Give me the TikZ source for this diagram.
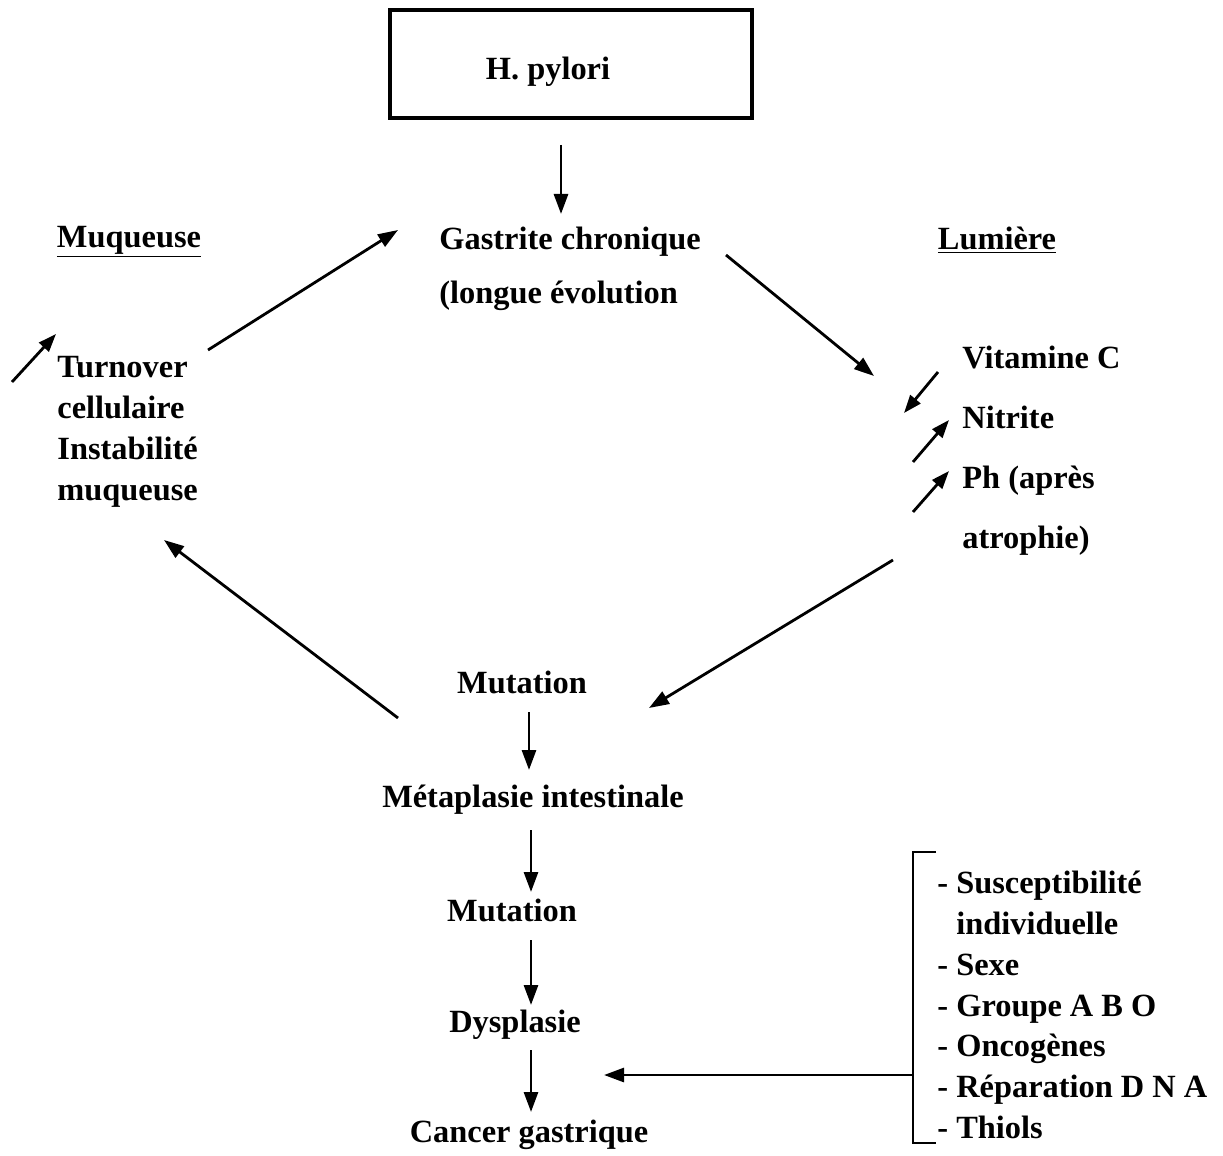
\documentclass[tikz,border=0pt]{standalone}
\usepackage{fontspec}
\setmainfont{Liberation Serif}
\usetikzlibrary{arrows.meta}
\begin{document}
\begin{tikzpicture}[x=0.5pt,y=-0.5pt,
  txt/.style={inner sep=0pt,font=\fontsize{16.2}{20.5}\selectfont\bfseries},
  arr/.style={line width=1.4pt,-{Triangle[length=10pt,width=7pt]}},
  sarr/.style={line width=1.4pt,-{Triangle[length=9pt,width=6.5pt]}}]
\useasboundingbox (0,0) rectangle (1223,1156);
% box
\node[draw,line width=2.4pt,minimum width=181pt,minimum height=54pt,
  label={[txt,xshift=-11.5pt,yshift=-4pt]center:H. pylori}] (hp) at (571,64) {};
% gastrite
\node[txt,align=left,anchor=west,font=\fontsize{16.2}{27}\selectfont\bfseries] (gas) at (439,269) {Gastrite chronique\\(longue évolution};
\node[txt] (muq) at (129,242) {\underline{Muqueuse}};
\node[txt] (lum) at (997,240) {\underline{Lumière}};
\node[txt,align=left,anchor=west] (turn) at (57,432) {Turnover\\cellulaire\\Instabilité\\muqueuse};
\node[txt,align=left,anchor=west,font=\fontsize{16.2}{30}\selectfont\bfseries] (vit) at (962,451) {Vitamine C\\Nitrite\\Ph (après\\atrophie)};
\node[txt] (mut1) at (522,682) {Mutation};
\node[txt] (meta) at (533,800) {Métaplasie intestinale};
\node[txt] (mut2) at (512,910) {Mutation};
\node[txt] (dys) at (515,1025) {Dysplasie};
\node[txt] (can) at (529,1135) {Cancer gastrique};
\node[txt,align=left,anchor=west,font=\fontsize{16.2}{20.4}\selectfont\bfseries] (list) at (937,1005) {- Susceptibilité\\\phantom{- }individuelle\\- Sexe\\- Groupe A B O\\- Oncogènes\\- Réparation D N A\\- Thiols};
% coordinates
\coordinate (a1s) at (561,145); \coordinate (a1e) at (561,214);
\coordinate (a2s) at (208,350); \coordinate (a2e) at (398,230);
\coordinate (a3s) at (726,255); \coordinate (a3e) at (874,376);
\coordinate (a4s) at (12,382); \coordinate (a4e) at (56,334);
\coordinate (v1s) at (938,372); \coordinate (v1e) at (904,413);
\coordinate (v2s) at (913,462); \coordinate (v2e) at (949,420);
\coordinate (v3s) at (913,512); \coordinate (v3e) at (949,471);
\coordinate (a5s) at (893,560); \coordinate (a5e) at (649,708);
\coordinate (a6s) at (398,718); \coordinate (a6e) at (164,540);
\coordinate (b1s) at (529,712); \coordinate (b1e) at (529,770);
\coordinate (b2s) at (531,830); \coordinate (b2e) at (531,892);
\coordinate (b3s) at (531,940); \coordinate (b3e) at (531,1005);
\coordinate (b4s) at (531,1050); \coordinate (b4e) at (531,1112);
\coordinate (brt) at (936,852); \coordinate (brb) at (936,1143);
\coordinate (brm) at (913,1075); \coordinate (bre) at (604,1075);
\draw[arr] (a1s) -- (a1e);
\draw[arr] (a2s) -- (a2e);
\draw[arr] (a3s) -- (a3e);
\draw[sarr] (a4s) -- (a4e);
\draw[sarr] (v1s) -- (v1e);
\draw[sarr] (v2s) -- (v2e);
\draw[sarr] (v3s) -- (v3e);
\draw[arr] (a5s) -- (a5e);
\draw[arr] (a6s) -- (a6e);
\draw[arr] (b1s) -- (b1e);
\draw[arr] (b2s) -- (b2e);
\draw[arr] (b3s) -- (b3e);
\draw[arr] (b4s) -- (b4e);
\draw[line width=1.4pt] (brt) -| (brm) |- (brb);
\draw[arr] (brm) -- (bre);
\end{tikzpicture}
\end{document}
